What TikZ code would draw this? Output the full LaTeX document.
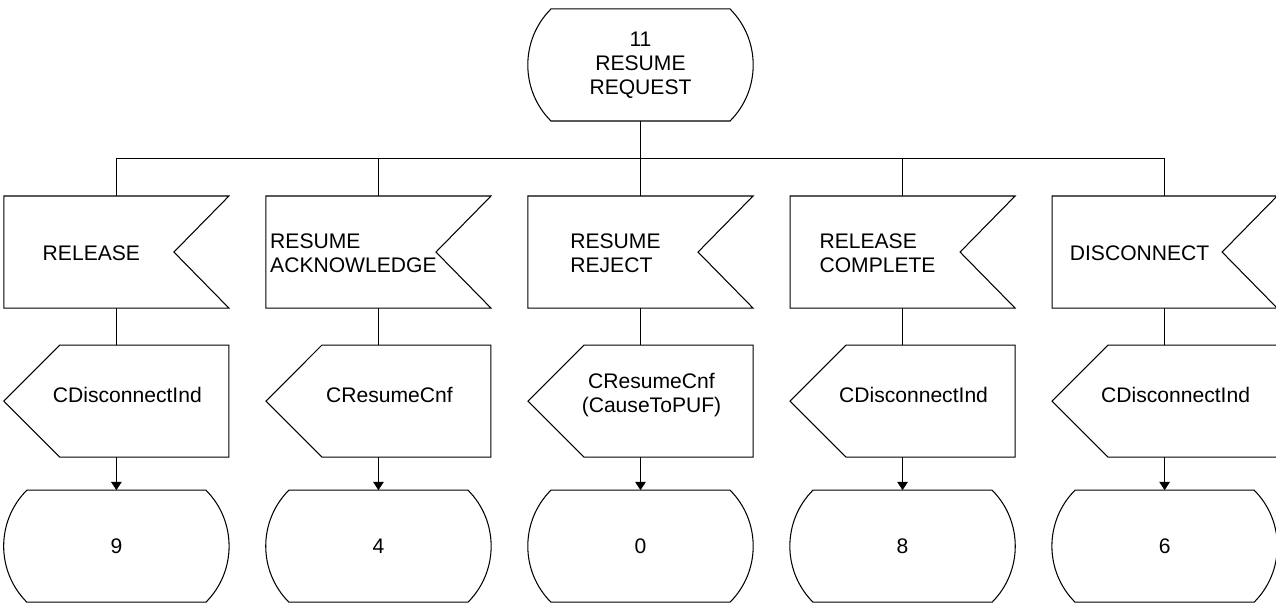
\documentclass[tikz,border=0pt]{standalone}
\usepackage{fontspec}
\setmainfont{Liberation Sans}
\newlength{\hdist}
\newlength{\vdist}
\newlength{\vdistin}
\newlength{\vdistout}
\usetikzlibrary{positioning}
\usetikzlibrary{calc}
\usetikzlibrary{arrows.meta}
\tikzstyle{box}=[rectangle, minimum width=4.48cm, minimum height=2.22cm, inner sep=0cm, align=center]
\tikzstyle{sdlstate}=[box, append after command={\pgfextra{
    \draw ([xshift=0.46cm]\tikzlastnode.north west) -- ([xshift=-0.46cm]\tikzlastnode.north east)
      to[bend left=45] ([xshift=-0.46cm]\tikzlastnode.south east) -- ([xshift=0.46cm]\tikzlastnode.south west)
      to[bend left=45] ([xshift=0.46cm]\tikzlastnode.north west) -- cycle;}}]
\tikzstyle{sdlin}=[box, append after command={\pgfextra{
    \draw (\tikzlastnode.north west) -- (\tikzlastnode.north east) -- ([xshift=-1.1cm]\tikzlastnode.east)
      -- (\tikzlastnode.south east) -- (\tikzlastnode.south west) -- cycle;}}]
\tikzstyle{sdlout}=[box, append after command={\pgfextra{
    \draw ([xshift=1.12cm]\tikzlastnode.north west) -- (\tikzlastnode.north east) -- (\tikzlastnode.south east)
      -- ([xshift=1.12cm]\tikzlastnode.south west) -- (\tikzlastnode.west) -- cycle;}}]
\tikzstyle{intxt}=[align=left, inner sep=0cm, xshift=-0.5cm, yshift=-0.02cm]
\tikzstyle{outtxt}=[align=center, inner sep=0cm, xshift=0.22cm, yshift=0.12cm]

\begin{document}
\begin{tikzpicture}[line width=0.6pt, font=\fontsize{12}{13.8}\selectfont]

				\setlength{\hdist}{0.74cm}
				\setlength{\vdist}{1.5cm}
				\setlength{\vdistin}{0.74cm}
				\setlength{\vdistout}{0.66cm}
				\useasboundingbox (-12.81,1.30) rectangle (12.71,-10.80);

				\node (s11) [sdlstate] {11\\RESUME\\REQUEST};
				%
				\node (in3) [sdlin, below=\vdist of s11, label={[intxt, name=in3t]center:RESUME\\REJECT}] {};
				\node (in2) [sdlin, left=\hdist of in3, label={[intxt, name=in2t]center:RESUME\\ACKNOWLEDGE}] {};
				\node (in1) [sdlin, left=\hdist of in2, label={[intxt, name=in1t]center:RELEASE}] {};
				\node (in4) [sdlin, right=\hdist of in3, label={[intxt, name=in4t]center:RELEASE\\COMPLETE}] {};
				\node (in5) [sdlin, right=\hdist of in4, label={[intxt, name=in5t]center:DISCONNECT}] {};
				%
				\foreach \i/\sig in {1/CDisconnectInd, 2/CResumeCnf, 3/{CResumeCnf\\(CauseToPUF)}, 4/CDisconnectInd, 5/CDisconnectInd}
					\node (out\i) [sdlout, below=\vdistin of in\i, label={[outtxt, name=out\i t]center:\sig}] {};
				\foreach \i/\st in {1/9, 2/4, 3/0, 4/8, 5/6}
					\node (st\i) [sdlstate, below=\vdistout of out\i] {\st};

				\coordinate (bus) at ($(s11.south)!0.5!(in3.north)$);
				\draw (s11) to (in3);
				\draw (bus -| in1.north) to (bus -| in5.north);
				\foreach \i in {1,2,4,5}
					\draw (bus -| in\i.north) to (in\i);
				\foreach \i in {1,...,5} {
					\draw (in\i) to (out\i);
					\draw [-{Triangle[length=4.7pt, width=6pt]}] (out\i) to (st\i);
				}
\end{tikzpicture}
\end{document}
